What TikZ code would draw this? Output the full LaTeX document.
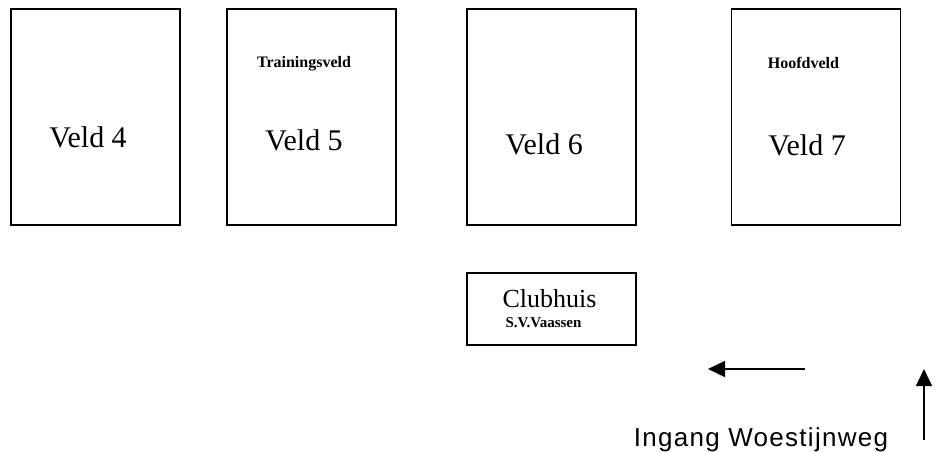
\documentclass[tikz,border=0pt]{standalone}
\usepackage{fontspec}
\setmainfont{Liberation Serif}
\newfontfamily\arialfont{Liberation Sans}[LetterSpace=5]
\usetikzlibrary{arrows.meta}
\tikzset{
  field/.style={draw=black, line width=1.6pt, minimum width=169pt, minimum height=216pt, inner sep=0pt},
  house/.style={draw=black, line width=1.6pt, minimum width=169pt, minimum height=72pt, inner sep=0pt},
  bigtxt/.style={anchor=base, inner sep=0pt, font=\fontsize{30}{33}\selectfont},
  boldtxt/.style={anchor=base, inner sep=0pt, font=\fontsize{16}{18}\selectfont\bfseries},
  arr/.style={line width=1.4pt, -{Triangle[length=17pt,width=16pt]}}
}
\begin{document}
\begin{tikzpicture}[x=1pt,y=-1pt]
\useasboundingbox (0,0) rectangle (937,452);
\node[field] (f4) at (95.5,117) {};
\node[field] (f5) at (311.5,117) {};
\node[field] (f6) at (551.5,117) {};
\node[field] (f7) at (816,117) {};
\node[house] (club) at (551.5,309) {};
\node[bigtxt] (v4) at (88,147) {Veld 4};
\node[bigtxt] (v5) at (304,150) {Veld 5};
\node[bigtxt] (v6) at (544,154) {Veld 6};
\node[bigtxt] (v7) at (807,155) {Veld 7};
\node[boldtxt] (tr) at (304,67.5) {Trainingsveld};
\node[boldtxt] (hf) at (803.5,68) {Hoofdveld};
\node[anchor=base, inner sep=0pt, font=\fontsize{26}{29}\selectfont] (ch) at (549.5,307) {Clubhuis};
\node[anchor=base, inner sep=0pt, font=\fontsize{15}{17}\selectfont\bfseries] (sv) at (543.5,327.5) {S.V.Vaassen};
\node[anchor=base, inner sep=0pt, font=\fontsize{26}{29}\selectfont\arialfont] (ing) at (761,446) {Ingang Woestijnweg};
\coordinate (a1s) at (805,369);
\coordinate (a1e) at (708,369);
\coordinate (a2s) at (924,440);
\coordinate (a2e) at (924,369);
\draw[arr] (a1s) -- (a1e);
\draw[arr] (a2s) -- (a2e);
\end{tikzpicture}
\end{document}
